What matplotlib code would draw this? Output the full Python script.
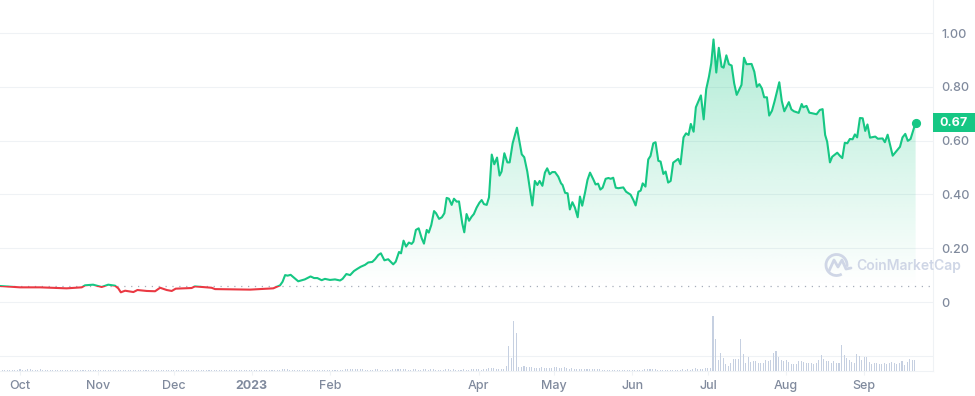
import matplotlib
matplotlib.use("Agg")
import matplotlib.dates as mdates
import matplotlib.pyplot as plt
import numpy as np
import pandas as pd
from matplotlib.patches import Arc, Rectangle

plt.rcParams["font.family"] = ["Inter", "DejaVu Sans"]

start = pd.Timestamp("2022-10-01")

# days since 2022-10-01
price_days = [
    -8, 0, 8, 18.5, 24.5, 25.8, 29, 32.4, 35, 37.7, 39, 40, 41.7, 45, 46.6, 50.3, 53.6, 55.6, 58.2, 60.2,
    61.8, 68.1, 69.4, 76, 77.4, 83.3, 91.3, 100.5, 103.2, 104.2, 105.2, 106.2, 107.4, 110.4, 113, 115.3,
    116.7, 118, 119.7, 121, 123, 125, 127, 128, 129.5, 131, 132.5,
    133.8, 135.2, 136.9, 138.2, 139.8, 140.9, 142.2, 143.2, 144.6, 146.1, 148.1, 149.1, 150.4, 151.2, 152.2,
    153.2, 154.3, 155.4, 156.1, 157.1, 158.2, 159.4, 160.3, 161.4, 162.2, 163.2, 164.3, 165.1, 166.3, 167.4,
    168.4, 169.3, 170.2, 171.3, 172.2, 173.3, 174.2, 175.5, 176.3, 177.2, 178.2, 179.2, 180.1, 181.2, 182.3,
    183.2, 184.1, 185.2, 186.1, 187.2, 188.2, 189.3, 190.3, 191.1, 192.2, 193.4, 194.3, 195.5, 197.2, 198.1,
    199.1, 200.1, 201.3, 202.4, 203.3, 204.3, 205.3, 206.2, 207.3, 208.3, 209.2, 210.2, 211.2, 212.3, 213.6,
    214.7, 215.3, 216.3, 217.3, 218.2, 219.2, 220.2, 221.3, 222.2, 223.1, 224.2, 225.2, 226.2, 227.5, 228.4,
    229.4, 230.3, 231.2, 232.4, 233.5, 234.4, 235.4, 236.4, 237.4, 239.4, 240.5, 242.3, 243.4, 244.3, 245.4,
    246.3, 247.1, 248.2, 249.3, 250.2, 251.3, 252.2, 253.3, 254.2, 255.3, 256.2, 257.2, 258.2, 259.2, 261.2,
    262.1, 263.3, 264.3, 265.3, 266.2, 267.3, 268.2, 270.2, 271.3, 272.3, 273.4, 274.3, 275.2, 276.3, 277.3,
    278.4, 279.2, 280.3, 281.3, 282.4, 283.4, 284.4, 286.3, 287.3, 288.3, 290.3, 291.4, 292.4, 293.4, 294.4,
    295.3, 296.4, 297.3, 298.4, 299.4, 301.3, 302.3, 303.3, 305.1, 306.1, 307.1, 309, 310.2, 310.8, 312.1,
    313.2, 316.1, 317.4, 318.5, 319.5, 320.3, 321.4, 322.3, 324.3, 325.4, 326.3, 327.3, 328.3, 329.3, 330.4,
    331.3, 332.2, 333.3, 334.4, 335.4, 336.3, 337.3, 339.4, 340.4, 342.3, 343.2, 344.3, 346.3, 349.2, 350.2,
    351.3, 352.3, 353.4, 355.4,
]
price = [
    .0595, .0545, .0545, .0508, .0545, .062, .0644, .0558, .0644, .0607, .0508, .036, .042, .037, .0446, .041, .040, .053, .0446, .041,
    .0496, .052, .058, .053, .048, .047, .046, .0508, .062, .0756, .100, .098, .101, .077, .084, .095,
    .089, .089, .081, .086, .082, .084, .080, .086, .104, .100, .115,
    .123, .131, .138, .147, .149, .159, .175, .181, .155, .159, .140, .150, .186, .181, .228,
    .206, .221, .216, .224, .268, .274, .237, .217, .268, .258, .286, .338, .330, .309, .315,
    .330, .387, .384, .361, .384, .373, .374, .292, .259, .327, .302, .317, .327, .351, .369,
    .379, .364, .361, .389, .548, .512, .537, .470, .485, .553, .519, .519, .590, .648, .602,
    .549, .538, .485, .416, .359, .450, .435, .450, .432, .481, .497, .475, .483, .483, .466,
    .441, .435, .406, .404, .344, .371, .351, .315, .392, .358, .406, .454, .481, .456, .437,
    .440, .418, .425, .458, .461, .458, .462, .425, .423, .426, .410, .399, .379, .359, .410,
    .414, .441, .429, .530, .543, .590, .594, .525, .522, .476, .485, .444, .450, .518, .532,
    .512, .612, .627, .621, .662, .633, .724, .768, .679, .791, .838, .887, .976, .853, .945,
    .875, .871, .917, .884, .879, .813, .770, .807, .908, .884, .885, .856, .800, .810, .794,
    .761, .761, .693, .711, .745, .817, .747, .709, .743, .716, .709, .703, .736, .724, .729,
    .704, .698, .714, .717, .621, .596, .519, .540, .555, .543, .535, .592, .590, .606, .605,
    .623, .612, .684, .683, .636, .660, .611, .615, .607, .608, .594, .622, .544, .577, .612,
    .625, .599, .606, .667,
]
baseline = 0.058

# daily volume from 2022-09-23, arbitrary units (same scale as the small chart height)
volume = [
    1, 1, 1, 1, 1, 1, 1, 1, 2.5, 1, 1, 2, 2, 1, 1, 1, 2,
    1, 1, 1, 1, 1, 1, 1, 1, 1, 1, 1, 1, 1, 1, 1, 1, 1, 1, 1, 1, 1, 1, 1, 1, 1, 1, 1, 1, 1, 1, 1, 1,
    1, 1, 1, 1, 1, 1, 1, 1, 1, 1, 1, 1, 1, 1, 1, 1, 1, 1, 1, 1, 1, 1, 1, 1, 1, 1, 1, 1, 1, 1, 1, 1,
    1, 1, 1, 1, 1, 1, 1, 1, 1, 1, 1, 1, 1, 1, 1, 1, 1, 1, 1, 1, 1, 1, 1, 1, 1, 1, 1, 1, 1, 1, 1,
    2, 2, 2, 1, 1, 1, 1, 1, 1, 1, 1, 1, 1, 1, 1, 1, 1, 1, 1, 1, 1, 1, 1, 1, 1,
    2, 2, 2, 2, 2, 2, 2, 2, 1, 1, 1, 1, 2, 2, 1, 1, 1, 1, 1, 2, 2, 2, 2, 2, 2, 1, 1, 2, 2, 1, 1, 2, 2, 1,
    2, 2, 1, 1, 1, 1, 2, 2, 1, 2, 1, 1, 1, 2, 1, 1, 2, 2, 2, 2, 1, 2, 2, 3.5, 3, 3, 2, 2,
    2, 2, 5, 25, 12.7, 50, 38, 4, 4, 5, 4, 4, 4, 3, 3, 3, 4, 3, 3, 3, 3, 4, 4, 3, 3, 4, 3, 2, 3, 2, 2, 2, 2, 2, 2,
    2, 2, 2, 2, 2, 1.3, 1, 1, 1, 1, 1, 1, 1, 1, 1, 1, 1, 1, 1, 1, 1, 1, 2, 2, 2, 2, 2,
    1, 1, 1, 1, 1, 1, 1, 1, 1, 1, 2, 1, 2, 1, 2, 3, 2, 2, 2, 3, 3, 3, 55,
    32, 11, 18, 13, 7, 5, 8, 12, 12, 12, 32, 17, 8, 14, 9, 10, 10, 8, 8, 8, 11, 10, 11, 18, 20, 14, 11, 10, 11,
    9, 7, 7, 7, 10, 10, 9, 8, 8, 8, 7, 8, 11, 16, 12, 10, 10, 8, 10, 8, 8, 26, 16, 13, 11, 9, 8, 17, 15, 11,
    14, 14, 9, 7, 8, 8, 7, 7, 8, 7, 8, 9, 8, 7, 8, 10, 6, 9, 12, 11, 11,
]

tick_dates = ["2022-10-01", "2022-11-01", "2022-12-01", "2023-01-01", "2023-02-01", "2023-04-01",
              "2023-05-01", "2023-06-01", "2023-07-01", "2023-08-01", "2023-09-01"]
tick_labels = ["Oct", "Nov", "Dec", "2023", "Feb", "Apr", "May", "Jun", "Jul", "Aug", "Sep"]
y_ticks = [0, 0.2, 0.4, 0.6, 0.8, 1.0]
y_labels = ["0", "0.20", "0.40", "0.60", "0.80", "1.00"]

green = "#16c784"
red = "#ea3943"
grey = "#808a9d"
light = "#eff2f5"

x = mdates.date2num(start + pd.to_timedelta(price_days, unit="D"))
vol_x = mdates.date2num(start + pd.to_timedelta(np.arange(len(volume)) - 8, unit="D"))
xlim = mdates.date2num([start - pd.Timedelta(days=7.94), start + pd.Timedelta(days=362.3)])
ylim = (-0.2565, 1.1227)

fig = plt.figure(figsize=(9.75, 3.96), dpi=100)
ax = fig.add_axes([0, 25 / 396, 933 / 975, 371 / 396])
ax2 = ax.twinx()

# gradient under the green part of the line
grad = np.zeros((256, 2, 4))
grad[..., :3] = matplotlib.colors.to_rgb(green)
grad[..., 3] = np.linspace(0.33, 0, 256)[:, None]
poly = ax.fill_between(x, price, baseline, facecolor="none", edgecolor="none")
im = ax.imshow(grad, extent=[xlim[0], xlim[1], baseline, max(price)], aspect="auto", zorder=1,
               interpolation="bilinear")
im.set_clip_path(poly.get_paths()[0], ax.transData)

ax.plot([xlim[0], x[-1] + 7], [baseline, baseline], color="#a6adba", lw=0.9, dashes=(1, 4.5), zorder=2)

above = Rectangle((xlim[0], baseline), xlim[1] - xlim[0], 2, transform=ax.transData)
below = Rectangle((xlim[0], -1), xlim[1] - xlim[0], 1 + baseline, transform=ax.transData)
line_up, = ax.plot(x, price, color=green, lw=1.5, zorder=3, solid_joinstyle="round")
line_up.set_clip_path(above)
line_dn, = ax.plot(x, price, color=red, lw=1.5, zorder=3, solid_joinstyle="round")
line_dn.set_clip_path(below)
ax.plot(x[-1], price[-1], "o", color=green, ms=5.6, zorder=4)

ax.set_xlim(xlim)
ax.set_ylim(ylim)
ax.yaxis.tick_right()
ax.set_yticks(y_ticks)
ax.set_yticklabels(y_labels, color=grey, fontsize=9, fontweight="medium")
ax.set_xticks(mdates.date2num(pd.to_datetime(tick_dates)))
ax.set_xticklabels(tick_labels, color=grey, fontsize=9, fontweight="medium")
ax.get_xticklabels()[3].set_fontweight("bold")
ax.tick_params(axis="y", length=0, pad=5.8)
ax.tick_params(axis="x", length=3, width=0.8, color=light, pad=3.5)
ax.grid(axis="y", color=light, lw=0.8)
ax.set_axisbelow(True)
for side in ["top", "left"]:
    ax.spines[side].set_visible(False)
for side in ["right", "bottom"]:
    ax.spines[side].set_color(light)
    ax.spines[side].set_linewidth(0.8)

# volume bars on their own scale
ax2.bar(vol_x, volume, width=0.42, color="#c6d0e1", zorder=2)
ax2.set_ylim(0, 371)
ax2.set_yticks([15])
ax2.set_yticklabels([])
ax2.tick_params(axis="y", length=0)
ax2.grid(axis="y", color=light, lw=0.8)
ax2.set_axisbelow(True)
for side in ax2.spines:
    ax2.spines[side].set_visible(False)

# price badge
ax.add_patch(Rectangle((1.0, price[-1] - 0.0365), 42 / 933, 0.0706, transform=ax.get_yaxis_transform(),
                       facecolor=green, edgecolor="none", clip_on=False, zorder=5))
ax.text(1 + 21 / 933, price[-1] - 0.001, f"{price[-1]:.2f}", transform=ax.get_yaxis_transform(), color="white",
        fontsize=9, fontweight="bold", ha="center", va="center", zorder=6)

# watermark, drawn in pixel coordinates
over = fig.add_axes([0, 0, 1, 1])
over.set_xlim(0, 975)
over.set_ylim(396, 0)
over.axis("off")
mark = "#cfd6e6"
over.add_patch(Arc((836.5, 265), 21, 21, theta1=60, theta2=370, color=mark, lw=2))
over.plot([829, 834, 838, 842, 846, 851], [271, 260, 267, 260, 269, 268], color=mark, lw=2,
          solid_joinstyle="round", solid_capstyle="round")
over.text(856.5, 265.5, "CoinMarketCap", color=mark, fontsize=10, fontweight="semibold", va="center", ha="left")

fig.savefig("out.png", dpi=100)
